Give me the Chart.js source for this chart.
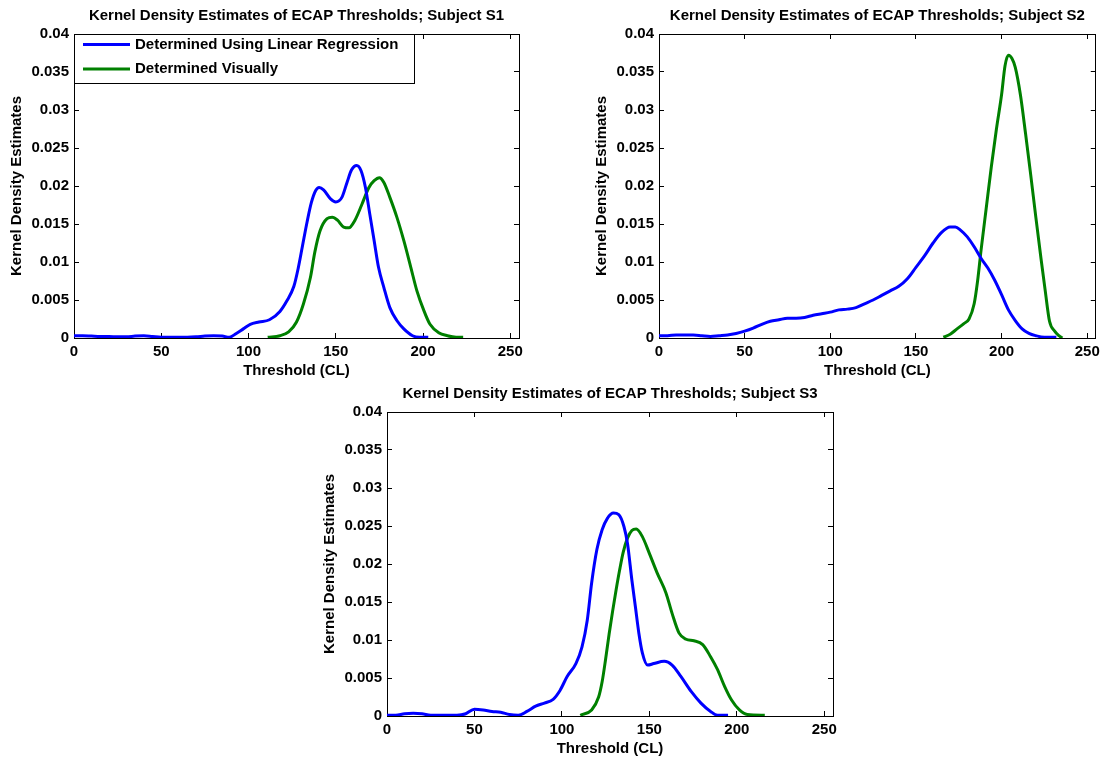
<!DOCTYPE html>
<html>
<head>
<meta charset="utf-8">
<title>Kernel Density Estimates of ECAP Thresholds</title>
<script src="https://cdn.jsdelivr.net/npm/chart.js@4.4.1/dist/chart.umd.min.js"></script>
<style>
  html, body { margin: 0; padding: 0; background: #ffffff; }
  body { width: 1110px; height: 760px; position: relative; overflow: hidden; }
  canvas { position: absolute; }
  #kdeS1 { left: 0px; top: 0px; }
  #kdeS2 { left: 585px; top: 0px; }
  #kdeS3 { left: 313px; top: 378px; }
</style>
</head>
<body>
<canvas id="kdeS1" width="540" height="380"></canvas>
<canvas id="kdeS2" width="525" height="380"></canvas>
<canvas id="kdeS3" width="540" height="380"></canvas>
<script>
// axis ticks (same for all three subjects)
const xTickValues = [0, 50, 100, 150, 200, 250];
const xTickLabels = ['0', '50', '100', '150', '200', '250'];
const yTickLabels = ['0', '0.005', '0.01', '0.015', '0.02', '0.025', '0.03', '0.035', '0.04'];
const seriesNames = ['Determined Using Linear Regression', 'Determined Visually'];

// Subject S1
const s1LinX = [0, 5, 10, 15, 20, 25, 30, 35, 40, 45, 50, 55, 60, 65, 70, 75, 80, 85, 89, 93, 97, 101, 106, 112, 118, 122, 126, 128.5, 131, 133.5, 136, 138.5, 140.5, 143, 147, 150, 153.5, 156.5, 159, 162, 164.5, 167, 169.5, 172, 174.5, 177.5, 181, 185, 189, 194, 198, 203];
const s1LinY = [0.0003, 0.0003, 0.00025, 0.0002, 0.0002, 0.00015, 0.00015, 0.00025, 0.0003, 0.0002, 0.0001, 0.0001, 0.0001, 0.0001, 0.00015, 0.00025, 0.0003, 0.00025, 0.0001, 0.0006, 0.0012, 0.0018, 0.0021, 0.0024, 0.0035, 0.0049, 0.0068, 0.0092, 0.0122, 0.0152, 0.0178, 0.0194, 0.0198, 0.0195, 0.0183, 0.0179, 0.0185, 0.0205, 0.0221, 0.0227, 0.022, 0.0198, 0.0163, 0.0128, 0.0093, 0.0067, 0.004, 0.0023, 0.0012, 0.0003, 0.0001, 0.0001];
const s1VisX = [111, 118, 123, 127.5, 131.5, 135.5, 138, 141, 145, 148, 151, 154.5, 157.5, 161, 165, 169, 172, 175, 177.5, 181, 185, 189, 193, 196.5, 200.5, 204, 209, 214, 219, 223];
const s1VisY = [0.0001, 0.0003, 0.0008, 0.0021, 0.0045, 0.008, 0.0113, 0.0141, 0.0157, 0.0159, 0.0155, 0.0146, 0.0145, 0.0155, 0.0176, 0.0198, 0.0207, 0.0211, 0.0205, 0.0185, 0.0159, 0.0128, 0.0093, 0.0062, 0.0036, 0.0018, 0.0007, 0.0003, 0.0001, 0.0001];

// Subject S2
const s2LinX = [0, 5, 10, 15, 20, 25, 30, 35, 40, 45, 50, 55, 60, 65, 70, 75, 80, 85, 90, 95, 100, 105, 110, 115, 120, 125, 130, 135, 140, 145, 150, 155, 160, 165, 170, 173, 176, 180, 184, 188, 192, 196, 200, 204, 208, 212, 216, 220, 225, 232];
const s2LinY = [0.0003, 0.0003, 0.0004, 0.0004, 0.0004, 0.0003, 0.0002, 0.0003, 0.0004, 0.0006, 0.0009, 0.0013, 0.0018, 0.0022, 0.0024, 0.0026, 0.0026, 0.0027, 0.003, 0.0032, 0.0034, 0.0037, 0.0038, 0.004, 0.0045, 0.005, 0.0056, 0.0062, 0.0068, 0.0078, 0.0093, 0.0108, 0.0125, 0.0139, 0.0146, 0.0146, 0.0142, 0.0133, 0.012, 0.0105, 0.0092, 0.0076, 0.0057, 0.0037, 0.0023, 0.0012, 0.0006, 0.0003, 0.0001, 0.0001];
const s2VisX = [166, 170, 174, 178, 181, 184, 186, 188, 191, 194, 197, 200, 202, 204, 206, 208, 211, 214, 217, 220, 223, 225.5, 228, 231, 233.5, 235.5];
const s2VisY = [0.0001, 0.0005, 0.0012, 0.0019, 0.0025, 0.0045, 0.0075, 0.0115, 0.017, 0.0225, 0.0275, 0.032, 0.0358, 0.0372, 0.0368, 0.0356, 0.032, 0.0269, 0.0215, 0.0159, 0.0105, 0.0062, 0.0022, 0.0009, 0.0003, 0];

// Subject S3
const s3LinX = [0, 5, 10, 15, 20, 25, 30, 35, 40, 45, 50, 55, 60, 65, 70, 75, 80, 85, 90, 95, 99, 103, 108, 111.5, 114.5, 117, 120, 123, 126, 129.5, 132.5, 135.5, 137.5, 140, 142, 144, 146, 149, 152.5, 158.5, 163, 168, 174, 179.5, 185, 189, 195];
const s3LinY = [0.0001, 0.0001, 0.0003, 0.00035, 0.0003, 0.0001, 0.0001, 0.0001, 0.0001, 0.0003, 0.0009, 0.0008, 0.0006, 0.0005, 0.0002, 0.0001, 0.0006, 0.0013, 0.0017, 0.0022, 0.0034, 0.0052, 0.0069, 0.0091, 0.0126, 0.0175, 0.0219, 0.0245, 0.026, 0.0267, 0.0265, 0.0249, 0.0227, 0.0179, 0.0144, 0.0109, 0.0083, 0.0067, 0.0069, 0.0072, 0.0067, 0.0052, 0.0032, 0.0017, 0.0006, 0.0001, 0.0001];
const s3VisX = [110.5, 117, 121, 123, 125, 127, 129, 131, 133, 135, 137.5, 140, 142.5, 146, 150, 154.5, 159.5, 163, 167, 171, 175.5, 180.5, 185, 189, 193, 197, 201.5, 206, 216];
const s3VisY = [0.0001, 0.0008, 0.0025, 0.0045, 0.0075, 0.0108, 0.0138, 0.0166, 0.0192, 0.0215, 0.0234, 0.0244, 0.0246, 0.0236, 0.0214, 0.0188, 0.0162, 0.0135, 0.0109, 0.0101, 0.0099, 0.0094, 0.0078, 0.0061, 0.0039, 0.0021, 0.0008, 0.0002, 0.0001];

const FONT_FAMILY = "'Liberation Sans', Arial, Helvetica, sans-serif";
const boldFont = { family: FONT_FAMILY, size: 15, weight: 'bold' };
const LINE_BLUE = '#0000ff';
const LINE_GREEN = '#008000';

Chart.defaults.font.family = FONT_FAMILY;
Chart.defaults.color = '#000000';

function toPoints(xs, ys) {
    return xs.map((x, i) => ({ x: x, y: ys[i] }));
}

// boxed legend in the top-left corner of the plot (white background, black frame)
const legendBox = {
    id: 'legendBox',
    afterDatasetsDraw(chart, args, opts) {
        if (!opts.enabled) return;
        const { ctx, chartArea } = chart;
        const left = chartArea.left;
        const top = chartArea.top;
        ctx.save();
        ctx.font = 'bold 15px ' + FONT_FAMILY;
        const textW = Math.max(...chart.data.datasets.map(d => ctx.measureText(d.label).width));
        const w = Math.round(61 + textW + 16);
        const h = 49;
        ctx.fillStyle = '#ffffff';
        ctx.fillRect(left, top, w, h);
        ctx.strokeStyle = '#000000';
        ctx.lineWidth = 1;
        ctx.strokeRect(left + 0.5, top + 0.5, w, h);
        chart.data.datasets.forEach((ds, i) => {
            const y = top + 10.5 + i * 24.5;
            ctx.strokeStyle = ds.borderColor;
            ctx.lineWidth = 3;
            ctx.beginPath();
            ctx.moveTo(left + 9, y);
            ctx.lineTo(left + 56, y);
            ctx.stroke();
            ctx.fillStyle = '#000000';
            ctx.textBaseline = 'middle';
            ctx.textAlign = 'left';
            ctx.fillText(ds.label, left + 61, y);
        });
        ctx.restore();
    }
};

// inward tick marks on all four sides, labels only on bottom/left
function frameAxis(position, extra) {
    const isX = position === 'top' || position === 'bottom';
    return Object.assign({
        type: 'linear',
        position: position,
        min: 0,
        max: isX ? 255 : 0.04,
        grid: { drawOnChartArea: false, drawTicks: true, tickLength: -5, color: '#000000', lineWidth: 1 },
        border: { display: true, color: '#000000', width: 1 },
        ticks: { display: false, stepSize: isX ? 50 : 0.005, includeBounds: false, autoSkip: false, maxRotation: 0 },
        afterFit: (scale) => { if (isX) scale.height = 0; else scale.width = 0; }
    }, extra || {});
}

function makeChart(canvasId, subject, linX, linY, visX, visY, padRight, withLegend) {
    const ctx = document.getElementById(canvasId).getContext('2d');
    return new Chart(ctx, {
        type: 'line',
        data: {
            datasets: [
                {
                    label: seriesNames[0],
                    data: toPoints(linX, linY),
                    borderColor: LINE_BLUE,
                    backgroundColor: LINE_BLUE,
                    borderWidth: 3,
                    pointRadius: 0,
                    fill: false,
                    cubicInterpolationMode: 'monotone',
                    xAxisID: 'x',
                    yAxisID: 'y'
                },
                {
                    label: seriesNames[1],
                    data: toPoints(visX, visY),
                    borderColor: LINE_GREEN,
                    backgroundColor: LINE_GREEN,
                    borderWidth: 3,
                    pointRadius: 0,
                    fill: false,
                    cubicInterpolationMode: 'monotone',
                    xAxisID: 'x',
                    yAxisID: 'y'
                }
            ]
        },
        options: {
            responsive: false,
            animation: false,
            events: [],
            layout: { padding: { left: 0, top: 0, bottom: 0, right: padRight } },
            plugins: {
                legend: { display: false },
                tooltip: { enabled: false },
                title: {
                    display: true,
                    text: 'Kernel Density Estimates of ECAP Thresholds; Subject ' + subject,
                    fullSize: false,
                    color: '#000000',
                    font: boldFont,
                    padding: { top: 6.5, bottom: 9.5 }
                },
                legendBox: { enabled: withLegend }
            },
            scales: {
                x: {
                    type: 'linear',
                    position: 'bottom',
                    min: 0,
                    max: 255,
                    afterFit: (scale) => { scale.height = 42; },
                    grid: { drawOnChartArea: false, drawTicks: true, tickLength: -5, color: '#000000', lineWidth: 1 },
                    border: { display: true, color: '#000000', width: 1 },
                    ticks: {
                        stepSize: 50,
                        includeBounds: false,
                        autoSkip: false,
                        maxRotation: 0,
                        padding: 10,
                        color: '#000000',
                        font: boldFont,
                        callback: (value) => xTickLabels[xTickValues.indexOf(value)]
                    },
                    title: {
                        display: true,
                        text: 'Threshold (CL)',
                        color: '#000000',
                        font: boldFont,
                        padding: { top: 0, bottom: 0 }
                    }
                },
                y: {
                    type: 'linear',
                    position: 'left',
                    min: 0,
                    max: 0.04,
                    afterFit: (scale) => { scale.width = 74; },
                    grid: { drawOnChartArea: false, drawTicks: true, tickLength: -5, color: '#000000', lineWidth: 1 },
                    border: { display: true, color: '#000000', width: 1 },
                    ticks: {
                        stepSize: 0.005,
                        autoSkip: false,
                        padding: 10,
                        color: '#000000',
                        font: boldFont,
                        callback: (value, index) => yTickLabels[index]
                    },
                    title: {
                        display: true,
                        text: 'Kernel Density Estimates',
                        color: '#000000',
                        font: boldFont,
                        padding: { top: 8, bottom: 0 }
                    }
                },
                xTop: frameAxis('top'),
                yRight: frameAxis('right')
            }
        },
        plugins: [legendBox]
    });
}

makeChart('kdeS1', 'S1', s1LinX, s1LinY, s1VisX, s1VisY, 21, true);
makeChart('kdeS2', 'S2', s2LinX, s2LinY, s2VisX, s2VisY, 4, false);
makeChart('kdeS3', 'S3', s3LinX, s3LinY, s3VisX, s3VisY, 20, false);
</script>
</body>
</html>
